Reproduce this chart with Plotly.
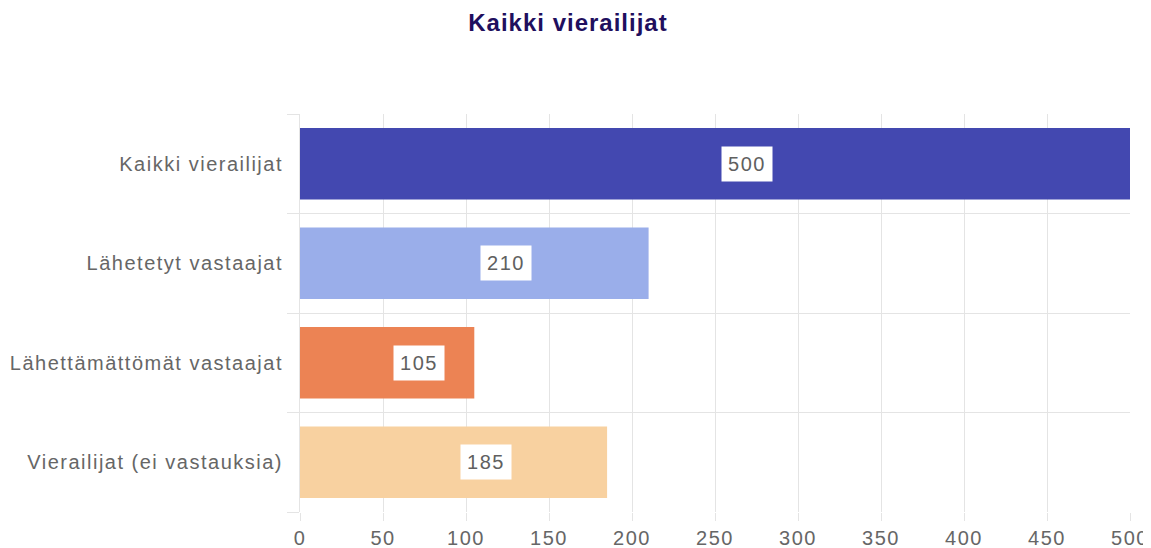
import plotly.graph_objects as go

categories = ["Kaikki vierailijat", "Lähetetyt vastaajat", "Lähettämättömät vastaajat", "Vierailijat (ei vastauksia)"]
values = [500, 210, 105, 185]
colors = ["#4348b0", "#9aaeea", "#ec8354", "#f8d1a0"]
x_ticks = list(range(0, 501, 50))

FONT = "Liberation Sans, Arial, sans-serif"
LS = '<span style="letter-spacing:1.5px">{}</span>'

pos = list(range(len(categories)))

fig = go.Figure()
fig.add_trace(go.Bar(
    x=values, y=pos, orientation="h",
    marker=dict(color=colors, line=dict(width=0)),
    hoverinfo="skip",
))

for p, v in zip(pos, values):
    fig.add_annotation(
        x=v / 2, y=p, text=LS.format(v), showarrow=False, xshift=32,
        bgcolor="white", borderpad=5, width=40, height=24,
        font=dict(family=FONT, size=20, color="#606060"),
    )

# page body has an 8px margin, so the figure is placed at (8, 8)
fig.update_layout(
    width=1143, height=540,
    margin=dict(l=292, r=21, t=106, b=36),
    paper_bgcolor="white", plot_bgcolor="white",
    bargap=0.28,
    showlegend=False,
    title=dict(
        text='<b><span style="letter-spacing:1px">Kaikki vierailijat</span></b>',
        x=560 / 1143, xanchor="center", y=1 - 15 / 540, yanchor="middle",
        font=dict(family=FONT, size=24, color="#1f0f5e"),
    ),
    xaxis=dict(
        range=[0, 500], tickvals=x_ticks, ticktext=[LS.format(t) for t in x_ticks],
        showgrid=True, gridcolor="#e4e4e4", gridwidth=1,
        zeroline=False, showline=False, automargin=False,
        ticks="outside", ticklen=8, tickcolor="#e4e4e4",
        tickfont=dict(family=FONT, size=20, color="#666666"),
    ),
    yaxis=dict(
        range=[3.5, -0.5], tickvals=pos, ticktext=[LS.format(c) for c in categories],
        showgrid=False, zeroline=False, showline=True, linecolor="#e4e4e4",
        ticks="", ticklabelstandoff=12, automargin=False,
        minor=dict(tick0=0.5, dtick=1, showgrid=True, gridcolor="#e4e4e4",
                   ticks="outside", ticklen=12, tickcolor="#e4e4e4"),
        tickfont=dict(family=FONT, size=20, color="#666666"),
    ),
)

fig.write_html("out.html")
